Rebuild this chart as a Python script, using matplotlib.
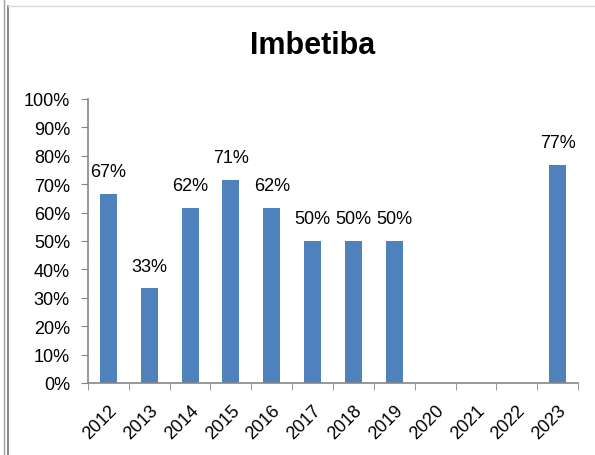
import numpy as np
import matplotlib.pyplot as plt
import matplotlib.transforms as mtransforms
from matplotlib.lines import Line2D

years = ["2012", "2013", "2014", "2015", "2016", "2017", "2018", "2019", "2020", "2021", "2022", "2023"]
values = [66.7, 33.3, 61.5, 71.4, 61.5, 50.0, 50.0, 50.0, np.nan, np.nan, np.nan, 76.9]
labels = ["67%", "33%", "62%", "71%", "62%", "50%", "50%", "50%", "", "", "", "77%"]

plt.rcParams['font.family'] = ['Liberation Sans', 'DejaVu Sans']

fig = plt.figure(figsize=(5.95, 4.56), dpi=100)
ax = fig.add_axes([88/595, 1-384/456, (578-88)/595, (384-100)/456])

x = np.arange(len(years))
ax.bar(x, values, width=0.42, color="#4F81BD")
for xi, v, lab in zip(x, values, labels):
    if lab:
        ax.text(xi, v + 6.3, lab, ha="center", va="baseline", fontsize=13)

ax.set_xlim(-0.5, len(years) - 0.5)
ax.set_ylim(0, 100)
ax.set_yticks(np.arange(0, 101, 10))
ax.set_yticklabels([f"{t}%" for t in range(0, 101, 10)], fontsize=13)
ax.set_xticks(x)
ax.set_xticklabels(years, rotation=45, ha="right", va="top", rotation_mode="anchor", fontsize=13)
shift = mtransforms.ScaledTranslation(4/100, 0, fig.dpi_scale_trans)
for t in ax.get_xticklabels():
    t.set_transform(t.get_transform() + shift)
ax.tick_params(axis="x", length=0, pad=13)
ax.set_xticks(np.arange(-0.5, len(years)), minor=True)
ax.tick_params(axis="x", which="minor", length=5, color="#868686", direction="out")
ax.tick_params(axis="y", length=5, color="#868686", direction="out", pad=8)

for s in ["top", "right"]:
    ax.spines[s].set_visible(False)
for s in ["left", "bottom"]:
    ax.spines[s].set_color("#868686")
    ax.spines[s].set_linewidth(1.2)

fig.text(313/595, 1-46/456, "Imbetiba", ha="center", va="center", fontsize=22, fontweight="bold")

# frame lines of the original screenshot
fig.add_artist(Line2D([3.5/595, 3.5/595], [0, 1], color="#a0a0a0", lw=1))
fig.add_artist(Line2D([8/595, 8/595], [0, 1-7/456], color="#808080", lw=1.3))
fig.add_artist(Line2D([8/595, 1], [1-7/456, 1-7/456], color="#d9d9d9", lw=1))

fig.savefig("out.png", dpi=100)
